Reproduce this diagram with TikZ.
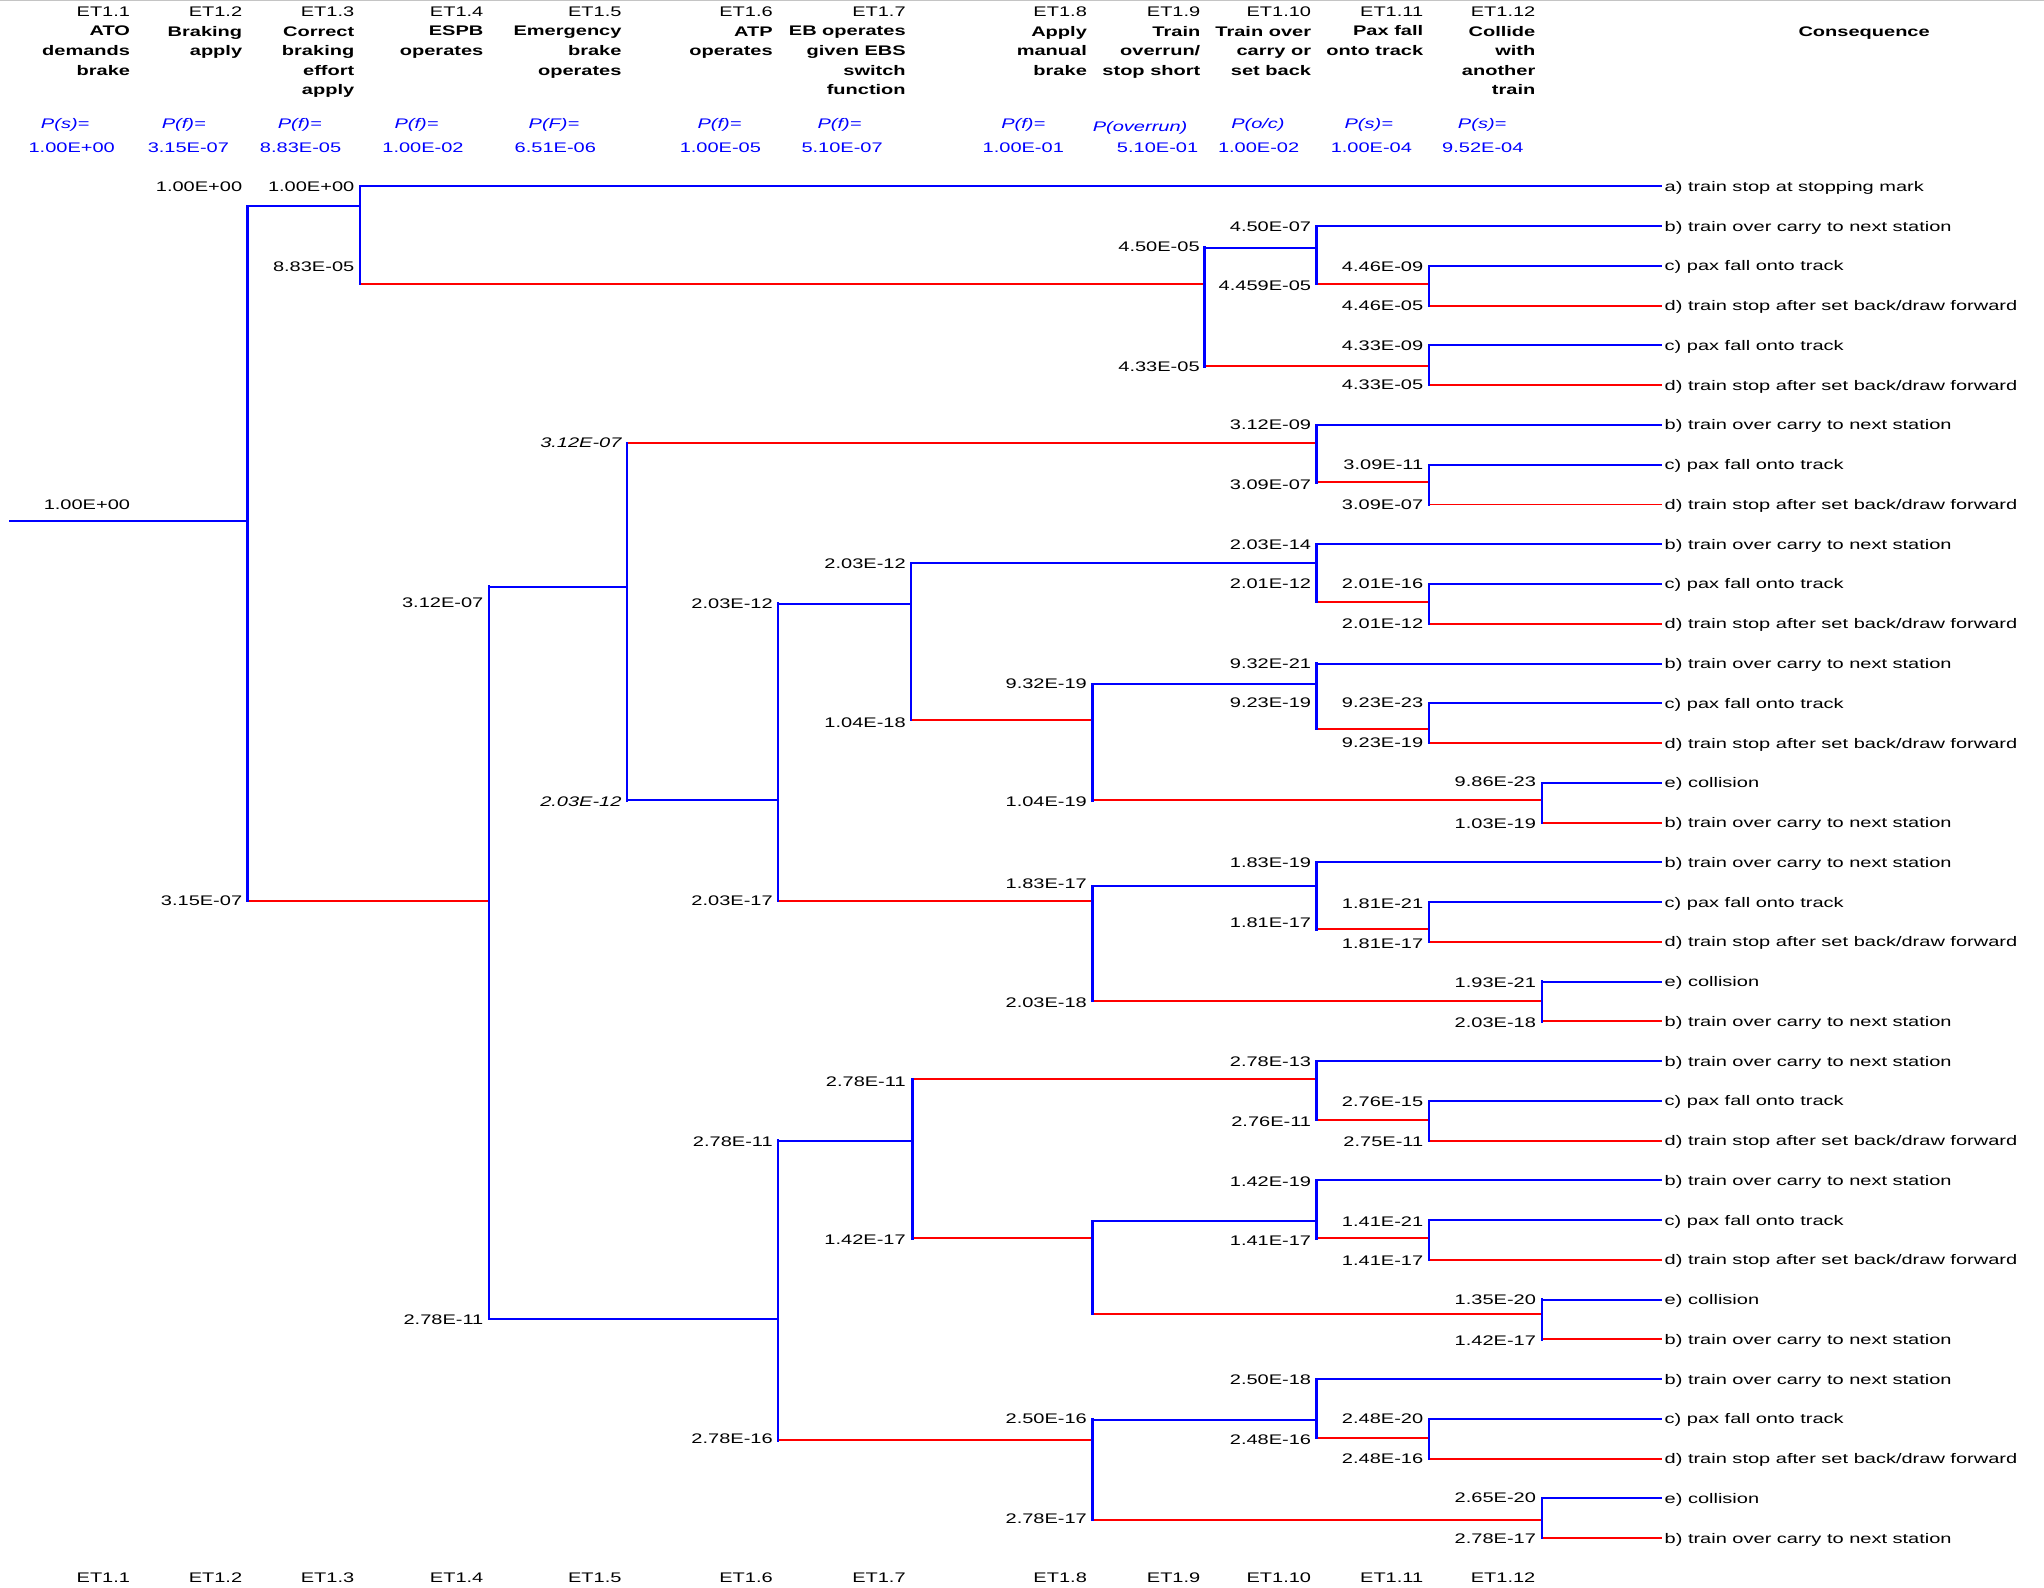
\documentclass[tikz,border=0pt]{standalone}
\usepackage{fontspec}
\setmainfont{Liberation Sans}[FakeStretch=1.44]
\usepackage{tikz}
\definecolor{okblue}{HTML}{0000FF}
\definecolor{failred}{HTML}{FF0000}
\definecolor{framegray}{HTML}{C4C4C4}

\begin{document}
\begin{tikzpicture}[
    x=0.03cm, y=-0.03cm,
    font=\fontsize{9.1}{12.8}\selectfont,
    val/.style={inner sep=0pt, text height=6.5pt, text depth=0pt, anchor=east},
    valit/.style={val, font=\fontsize{9.1}{12.8}\selectfont\itshape},
    outcome/.style={val, anchor=west, inner xsep=1.5pt},
    head/.style={inner sep=0pt, align=right, anchor=north east},
    prob/.style={inner sep=0pt, text height=6.5pt, text depth=0pt, text=okblue},
    okline/.style={okblue, line width=1.3pt},
    failline/.style={failred, line width=1.3pt},
    splitline/.style={okblue, line width=1.6pt, line cap=rect}
]
  \useasboundingbox (0,0) rectangle (1568,1218);
  \draw[framegray, line width=0.6pt] (0,0.6) -- (1568,0.6);

  % column heads
  \node[head] (h1) at (100,5) {ET1.1\\\textbf{ATO}\\\textbf{demands}\\\textbf{brake}};
  \node[head] (h2) at (186,5) {ET1.2\\\textbf{Braking}\\\textbf{apply}};
  \node[head] (h3) at (272,5) {ET1.3\\\textbf{Correct}\\\textbf{braking}\\\textbf{effort}\\\textbf{apply}};
  \node[head] (h4) at (371,5) {ET1.4\\\textbf{ESPB}\\\textbf{operates}};
  \node[head] (h5) at (477,5) {ET1.5\\\textbf{Emergency}\\\textbf{brake}\\\textbf{operates}};
  \node[head] (h6) at (593,5) {ET1.6\\\textbf{ATP}\\\textbf{operates}};
  \node[head] (h7) at (695,5) {ET1.7\\\textbf{EB operates}\\\textbf{given EBS}\\\textbf{switch}\\\textbf{function}};
  \node[head] (h8) at (834,5) {ET1.8\\\textbf{Apply}\\\textbf{manual}\\\textbf{brake}};
  \node[head] (h9) at (921,5) {ET1.9\\\textbf{Train}\\\textbf{overrun/}\\\textbf{stop short}};
  \node[head] (h10) at (1006,5) {ET1.10\\\textbf{Train over}\\\textbf{carry or}\\\textbf{set back}};
  \node[head] (h11) at (1092,5) {ET1.11\\\textbf{Pax fall}\\\textbf{onto track}};
  \node[head] (h12) at (1178,5) {ET1.12\\\textbf{Collide}\\\textbf{with}\\\textbf{another}\\\textbf{train}};
  \node[prob, text=black] (hc) at (1430,24) {\textbf{Consequence}};

  % probabilities
  \node[prob] (pn1) at (50,94.6) {\itshape P(s)=};
  \node[prob] (pv1) at (55,113.3) {1.00E+00};
  \node[prob] (pn2) at (141,94.6) {\itshape P(f)=};
  \node[prob] (pv2) at (144.5,113.3) {3.15E-07};
  \node[prob] (pn3) at (230,94.6) {\itshape P(f)=};
  \node[prob] (pv3) at (230.6,113.3) {8.83E-05};
  \node[prob] (pn4) at (319.5,94.6) {\itshape P(f)=};
  \node[prob] (pv4) at (324.5,113.3) {1.00E-02};
  \node[prob] (pn5) at (425,94.6) {\itshape P(F)=};
  \node[prob] (pv5) at (426,113.3) {6.51E-06};
  \node[prob] (pn6) at (552,94.6) {\itshape P(f)=};
  \node[prob] (pv6) at (552.6,113.3) {1.00E-05};
  \node[prob] (pn7) at (644,94.6) {\itshape P(f)=};
  \node[prob] (pv7) at (646,113.3) {5.10E-07};
  \node[prob] (pn8) at (785,94.6) {\itshape P(f)=};
  \node[prob] (pv8) at (785,113.3) {1.00E-01};
  \node[prob] (pn9) at (874.6,97) {\itshape P(overrun)};
  \node[prob] (pv9) at (888,113.3) {5.10E-01};
  \node[prob] (pn10) at (965,94.6) {\itshape P(o/c)};
  \node[prob] (pv10) at (965.5,113.3) {1.00E-02};
  \node[prob] (pn11) at (1050,94.6) {\itshape P(s)=};
  \node[prob] (pv11) at (1052,113.3) {1.00E-04};
  \node[prob] (pn12) at (1137,94.6) {\itshape P(s)=};
  \node[prob] (pv12) at (1137.5,113.3) {9.52E-04};

  % consequences
  \node[outcome] (o1) at (1275,143) {a) train stop at stopping mark};
  \node[outcome] (o2) at (1275,173.5) {b) train over carry to next station};
  \node[outcome] (o3) at (1275,204) {c) pax fall onto track};
  \node[outcome] (o4) at (1275,234.5) {d) train stop after set back/draw forward};
  \node[outcome] (o5) at (1275,265) {c) pax fall onto track};
  \node[outcome] (o6) at (1275,295.5) {d) train stop after set back/draw forward};
  \node[outcome] (o7) at (1275,326) {b) train over carry to next station};
  \node[outcome] (o8) at (1275,356.5) {c) pax fall onto track};
  \node[outcome] (o9) at (1275,387) {d) train stop after set back/draw forward};
  \node[outcome] (o10) at (1275,417.5) {b) train over carry to next station};
  \node[outcome] (o11) at (1275,448) {c) pax fall onto track};
  \node[outcome] (o12) at (1275,478.5) {d) train stop after set back/draw forward};
  \node[outcome] (o13) at (1275,509) {b) train over carry to next station};
  \node[outcome] (o14) at (1275,539.5) {c) pax fall onto track};
  \node[outcome] (o15) at (1275,570) {d) train stop after set back/draw forward};
  \node[outcome] (o16) at (1275,600.5) {e) collision};
  \node[outcome] (o17) at (1275,631) {b) train over carry to next station};
  \node[outcome] (o18) at (1275,661.5) {b) train over carry to next station};
  \node[outcome] (o19) at (1275,692) {c) pax fall onto track};
  \node[outcome] (o20) at (1275,722.5) {d) train stop after set back/draw forward};
  \node[outcome] (o21) at (1275,753) {e) collision};
  \node[outcome] (o22) at (1275,783.5) {b) train over carry to next station};
  \node[outcome] (o23) at (1275,814) {b) train over carry to next station};
  \node[outcome] (o24) at (1275,844.5) {c) pax fall onto track};
  \node[outcome] (o25) at (1275,875) {d) train stop after set back/draw forward};
  \node[outcome] (o26) at (1275,905.5) {b) train over carry to next station};
  \node[outcome] (o27) at (1275,936) {c) pax fall onto track};
  \node[outcome] (o28) at (1275,966.5) {d) train stop after set back/draw forward};
  \node[outcome] (o29) at (1275,997) {e) collision};
  \node[outcome] (o30) at (1275,1027.5) {b) train over carry to next station};
  \node[outcome] (o31) at (1275,1058) {b) train over carry to next station};
  \node[outcome] (o32) at (1275,1088.5) {c) pax fall onto track};
  \node[outcome] (o33) at (1275,1119) {d) train stop after set back/draw forward};
  \node[outcome] (o34) at (1275,1149.5) {e) collision};
  \node[outcome] (o35) at (1275,1180) {b) train over carry to next station};

  % branch points
  \coordinate (start) at (7,400);
  \coordinate (s2) at (190,400);
  \coordinate (s3) at (276,158);
  \coordinate (s4) at (375,691);
  \coordinate (s5) at (481,450);
  \coordinate (s6a) at (597,614);
  \coordinate (s6b) at (597,1012);
  \coordinate (s7a) at (699,463);
  \coordinate (s7b) at (700,875);
  \coordinate (s8a) at (838,552);
  \coordinate (s8b) at (838,691);
  \coordinate (s8c) at (838,950);
  \coordinate (s8d) at (838,1105);
  \coordinate (s9) at (924,218);
  \coordinate (s10a) at (1010,190);
  \coordinate (s10b) at (1010,340);
  \coordinate (s10c) at (1010,432);
  \coordinate (s10d) at (1010,525);
  \coordinate (s10e) at (1010,680);
  \coordinate (s10f) at (1010,828);
  \coordinate (s10g) at (1010,937);
  \coordinate (s10h) at (1010,1089);
  \coordinate (s11a) at (1096,218);
  \coordinate (s11b) at (1096,281);
  \coordinate (s11c) at (1096,370);
  \coordinate (s11d) at (1096,462);
  \coordinate (s11e) at (1096,559);
  \coordinate (s11f) at (1096,713);
  \coordinate (s11g) at (1096,859);
  \coordinate (s11h) at (1096,950);
  \coordinate (s11i) at (1096,1103);
  \coordinate (s12a) at (1183,614);
  \coordinate (s12b) at (1183,768);
  \coordinate (s12c) at (1183,1008);
  \coordinate (s12d) at (1183,1166);

  % success branches
  \draw[okline] (start) -- (s2);
  \draw[okline] (s2) |- (s3);
  \draw[okline] (s3) |- (o1.west);
  \draw[okline] (s9) |- (s10a);
  \draw[okline] (s10a) |- (o2.west);
  \draw[okline] (s11a) |- (o3.west);
  \draw[okline] (s11b) |- (o5.west);
  \draw[okline] (s4) |- (s5);
  \draw[okline] (s4) |- (s6b);
  \draw[okline] (s5) |- (s6a);
  \draw[okline] (s10b) |- (o7.west);
  \draw[okline] (s11c) |- (o8.west);
  \draw[okline] (s6a) |- (s7a);
  \draw[okline] (s7a) |- (s10c);
  \draw[okline] (s10c) |- (o10.west);
  \draw[okline] (s11d) |- (o11.west);
  \draw[okline] (s8a) |- (s10d);
  \draw[okline] (s10d) |- (o13.west);
  \draw[okline] (s11e) |- (o14.west);
  \draw[okline] (s12a) |- (o16.west);
  \draw[okline] (s8b) |- (s10e);
  \draw[okline] (s10e) |- (o18.west);
  \draw[okline] (s11f) |- (o19.west);
  \draw[okline] (s12b) |- (o21.west);
  \draw[okline] (s6b) |- (s7b);
  \draw[okline] (s10f) |- (o23.west);
  \draw[okline] (s11g) |- (o24.west);
  \draw[okline] (s8c) |- (s10g);
  \draw[okline] (s10g) |- (o26.west);
  \draw[okline] (s11h) |- (o27.west);
  \draw[okline] (s12c) |- (o29.west);
  \draw[okline] (s8d) |- (s10h);
  \draw[okline] (s10h) |- (o31.west);
  \draw[okline] (s11i) |- (o32.west);
  \draw[okline] (s12d) |- (o34.west);

  % failure branches
  \draw[failline] (s2) |- (s4);
  \draw[failline] (s3) |- (s9);
  \draw[failline] (s9) |- (s11b);
  \draw[failline] (s10a) |- (s11a);
  \draw[failline] (s11a) |- (o4.west);
  \draw[failline] (s11b) |- (o6.west);
  \draw[failline] (s5) |- (s10b);
  \draw[failline] (s10b) |- (s11c);
  \draw[failline] (s11c) |- (o9.west);
  \draw[failline] (s6a) |- (s8b);
  \draw[failline] (s7a) |- (s8a);
  \draw[failline] (s10c) |- (s11d);
  \draw[failline] (s11d) |- (o12.west);
  \draw[failline] (s8a) |- (s12a);
  \draw[failline] (s10d) |- (s11e);
  \draw[failline] (s11e) |- (o15.west);
  \draw[failline] (s12a) |- (o17.west);
  \draw[failline] (s8b) |- (s12b);
  \draw[failline] (s10e) |- (s11f);
  \draw[failline] (s11f) |- (o20.west);
  \draw[failline] (s12b) |- (o22.west);
  \draw[failline] (s6b) |- (s8d);
  \draw[failline] (s7b) |- (s10f);
  \draw[failline] (s7b) |- (s8c);
  \draw[failline] (s10f) |- (s11g);
  \draw[failline] (s11g) |- (o25.west);
  \draw[failline] (s8c) |- (s12c);
  \draw[failline] (s10g) |- (s11h);
  \draw[failline] (s11h) |- (o28.west);
  \draw[failline] (s12c) |- (o30.west);
  \draw[failline] (s8d) |- (s12d);
  \draw[failline] (s10h) |- (s11i);
  \draw[failline] (s11i) |- (o33.west);
  \draw[failline] (s12d) |- (o35.west);

  % split bars
  \draw[splitline] (s2 |- s3) -- (s2 |- s4);
  \draw[splitline] (s3 |- o1.west) -- (s3 |- s9);
  \draw[splitline] (s9 |- s10a) -- (s9 |- s11b);
  \draw[splitline] (s10a |- o2.west) -- (s10a |- s11a);
  \draw[splitline] (s11a |- o3.west) -- (s11a |- o4.west);
  \draw[splitline] (s11b |- o5.west) -- (s11b |- o6.west);
  \draw[splitline] (s4 |- s5) -- (s4 |- s6b);
  \draw[splitline] (s5 |- s10b) -- (s5 |- s6a);
  \draw[splitline] (s10b |- o7.west) -- (s10b |- s11c);
  \draw[splitline] (s11c |- o8.west) -- (s11c |- o9.west);
  \draw[splitline] (s6a |- s7a) -- (s6a |- s8b);
  \draw[splitline] (s7a |- s10c) -- (s7a |- s8a);
  \draw[splitline] (s10c |- o10.west) -- (s10c |- s11d);
  \draw[splitline] (s11d |- o11.west) -- (s11d |- o12.west);
  \draw[splitline] (s8a |- s10d) -- (s8a |- s12a);
  \draw[splitline] (s10d |- o13.west) -- (s10d |- s11e);
  \draw[splitline] (s11e |- o14.west) -- (s11e |- o15.west);
  \draw[splitline] (s12a |- o16.west) -- (s12a |- o17.west);
  \draw[splitline] (s8b |- s10e) -- (s8b |- s12b);
  \draw[splitline] (s10e |- o18.west) -- (s10e |- s11f);
  \draw[splitline] (s11f |- o19.west) -- (s11f |- o20.west);
  \draw[splitline] (s12b |- o21.west) -- (s12b |- o22.west);
  \draw[splitline] (s6b |- s7b) -- (s6b |- s8d);
  \draw[splitline] (s7b |- s10f) -- (s7b |- s8c);
  \draw[splitline] (s10f |- o23.west) -- (s10f |- s11g);
  \draw[splitline] (s11g |- o24.west) -- (s11g |- o25.west);
  \draw[splitline] (s8c |- s10g) -- (s8c |- s12c);
  \draw[splitline] (s10g |- o26.west) -- (s10g |- s11h);
  \draw[splitline] (s11h |- o27.west) -- (s11h |- o28.west);
  \draw[splitline] (s12c |- o29.west) -- (s12c |- o30.west);
  \draw[splitline] (s8d |- s10h) -- (s8d |- s12d);
  \draw[splitline] (s10h |- o31.west) -- (s10h |- s11i);
  \draw[splitline] (s11i |- o32.west) -- (s11i |- o33.west);
  \draw[splitline] (s12d |- o34.west) -- (s12d |- o35.west);

  % branch values
  \node[val] (v0) at (100,387) {1.00E+00};
  \node[val] (v2a) at (186,143) {1.00E+00};
  \node[val] (v2b) at (186,691) {3.15E-07};
  \node[val] (v3a) at (272,143) {1.00E+00};
  \node[val] (v3b) at (272,204.5) {8.83E-05};
  \node[val] (v4a) at (371,462.3) {3.12E-07};
  \node[val] (v4b) at (371,1012.5) {2.78E-11};
  \node[valit] (v5a) at (477,339.6) {3.12E-07};
  \node[valit] (v5b) at (477,614.5) {2.03E-12};
  \node[val] (v6a) at (593,463) {2.03E-12};
  \node[val] (v6b) at (593,691) {2.03E-17};
  \node[val] (v6c) at (593,875.5) {2.78E-11};
  \node[val] (v6d) at (593,1103.7) {2.78E-16};
  \node[val] (v7a) at (695,432) {2.03E-12};
  \node[val] (v7b) at (695,554) {1.04E-18};
  \node[val] (v7c) at (695,829.4) {2.78E-11};
  \node[val] (v7d) at (695,951.2) {1.42E-17};
  \node[val] (v8a) at (834,524) {9.32E-19};
  \node[val] (v8b) at (834,615) {1.04E-19};
  \node[val] (v8c) at (834,677.6) {1.83E-17};
  \node[val] (v8d) at (834,769) {2.03E-18};
  \node[val] (v8e) at (834,1088.5) {2.50E-16};
  \node[val] (v8f) at (834,1164.7) {2.78E-17};
  \node[val] (v9a) at (920.5,189) {4.50E-05};
  \node[val] (v9b) at (920.5,281) {4.33E-05};
  \node[val] (v10a) at (1006,174) {4.50E-07};
  \node[val] (v10b) at (1006,219) {4.459E-05};
  \node[val] (v10c) at (1006,326) {3.12E-09};
  \node[val] (v10d) at (1006,371.5) {3.09E-07};
  \node[val] (v10e) at (1006,417.6) {2.03E-14};
  \node[val] (v10f) at (1006,448) {2.01E-12};
  \node[val] (v10g) at (1006,509) {9.32E-21};
  \node[val] (v10h) at (1006,539) {9.23E-19};
  \node[val] (v10i) at (1006,662) {1.83E-19};
  \node[val] (v10j) at (1006,708) {1.81E-17};
  \node[val] (v10k) at (1006,814.6) {2.78E-13};
  \node[val] (v10l) at (1006,860.6) {2.76E-11};
  \node[val] (v10m) at (1006,906) {1.42E-19};
  \node[val] (v10n) at (1006,952) {1.41E-17};
  \node[val] (v10o) at (1006,1058) {2.50E-18};
  \node[val] (v10p) at (1006,1104) {2.48E-16};
  \node[val] (v11a) at (1092,204.6) {4.46E-09};
  \node[val] (v11b) at (1092,234.7) {4.46E-05};
  \node[val] (v11c) at (1092,265) {4.33E-09};
  \node[val] (v11d) at (1092,295.3) {4.33E-05};
  \node[val] (v11e) at (1092,356.7) {3.09E-11};
  \node[val] (v11f) at (1092,387) {3.09E-07};
  \node[val] (v11g) at (1092,448) {2.01E-16};
  \node[val] (v11h) at (1092,478) {2.01E-12};
  \node[val] (v11i) at (1092,539) {9.23E-23};
  \node[val] (v11j) at (1092,569.5) {9.23E-19};
  \node[val] (v11k) at (1092,693) {1.81E-21};
  \node[val] (v11l) at (1092,723.6) {1.81E-17};
  \node[val] (v11m) at (1092,845) {2.76E-15};
  \node[val] (v11n) at (1092,876) {2.75E-11};
  \node[val] (v11o) at (1092,937) {1.41E-21};
  \node[val] (v11p) at (1092,967) {1.41E-17};
  \node[val] (v11q) at (1092,1088.5) {2.48E-20};
  \node[val] (v11r) at (1092,1119) {2.48E-16};
  \node[val] (v12a) at (1178.5,599.6) {9.86E-23};
  \node[val] (v12b) at (1178.5,631.6) {1.03E-19};
  \node[val] (v12c) at (1178.5,754) {1.93E-21};
  \node[val] (v12d) at (1178.5,784.4) {2.03E-18};
  \node[val] (v12e) at (1178.5,997) {1.35E-20};
  \node[val] (v12f) at (1178.5,1028) {1.42E-17};
  \node[val] (v12g) at (1178.5,1149) {2.65E-20};
  \node[val] (v12h) at (1178.5,1180) {2.78E-17};

  % column feet
  \node[val] (f1) at (100,1210.4) {ET1.1};
  \node[val] (f2) at (186,1210.4) {ET1.2};
  \node[val] (f3) at (272,1210.4) {ET1.3};
  \node[val] (f4) at (371,1210.4) {ET1.4};
  \node[val] (f5) at (477,1210.4) {ET1.5};
  \node[val] (f6) at (593,1210.4) {ET1.6};
  \node[val] (f7) at (695,1210.4) {ET1.7};
  \node[val] (f8) at (834,1210.4) {ET1.8};
  \node[val] (f9) at (921,1210.4) {ET1.9};
  \node[val] (f10) at (1006,1210.4) {ET1.10};
  \node[val] (f11) at (1092,1210.4) {ET1.11};
  \node[val] (f12) at (1178,1210.4) {ET1.12};
\end{tikzpicture}
\end{document}
